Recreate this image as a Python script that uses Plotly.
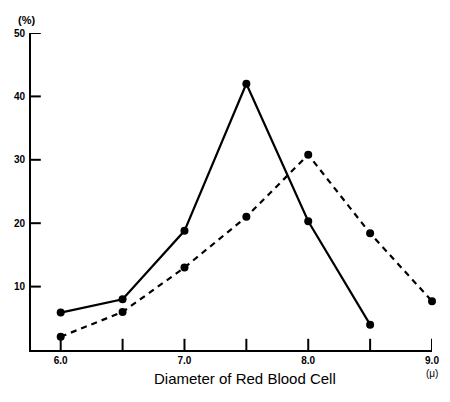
import plotly.graph_objects as go

diameters = [6.0, 6.5, 7.0, 7.5, 8.0, 8.5]
solid_pct = [5.9, 8.0, 18.8, 42.0, 20.3, 4.0]
diameters_dashed = [6.0, 6.5, 7.0, 7.5, 8.0, 8.5, 9.0]
dashed_pct = [2.1, 6.0, 13.0, 21.0, 30.8, 18.4, 7.7]

x_tickvals = [6.0, 6.5, 7.0, 7.5, 8.0, 8.5, 9.0]
x_ticktext = ["<b>6.0</b>", "", "<b>7.0</b>", "", "<b>8.0</b>", "", "<b>9.0</b>"]
y_tickvals = [10, 20, 30, 40, 50]
y_ticktext = ["<b>10</b>", "<b>20</b>", "<b>30</b>", "<b>40</b>", "<b>50</b>"]

x_range = [5.76, 9.0]
y_range = [0, 50]

fig = go.Figure()
# tick marks drawn as clipped line markers so only the inner half shows
fig.add_trace(go.Scatter(x=x_tickvals, y=[y_range[0]] * len(x_tickvals), mode="markers",
                         marker=dict(symbol="line-ns", size=16, line=dict(color="black", width=2)),
                         showlegend=False, hoverinfo="skip"))
fig.add_trace(go.Scatter(x=[x_range[0]] * len(y_tickvals), y=y_tickvals, mode="markers",
                         marker=dict(symbol="line-ew", size=14, line=dict(color="black", width=2)),
                         showlegend=False, hoverinfo="skip"))
fig.add_trace(go.Scatter(x=diameters, y=solid_pct, mode="lines+markers",
                         line=dict(color="black", width=2.2),
                         marker=dict(color="black", size=8), showlegend=False,
                         cliponaxis=False))
fig.add_trace(go.Scatter(x=diameters_dashed, y=dashed_pct, mode="lines+markers",
                         line=dict(color="black", width=2.2, dash="6px,5px"),
                         marker=dict(color="black", size=8), showlegend=False,
                         cliponaxis=False))

font_ax = dict(family="Liberation Sans Narrow, Arial Narrow, sans-serif", size=10, color="black")

fig.update_layout(
    template="none",
    width=450, height=402,
    margin=dict(l=31, r=18, t=33, b=52),
    paper_bgcolor="white", plot_bgcolor="white",
    xaxis=dict(range=x_range, tickmode="array", tickvals=x_tickvals, ticktext=x_ticktext,
               ticks="", showline=True, linecolor="black", linewidth=2, showgrid=False,
               zeroline=False, tickfont=font_ax),
    yaxis=dict(range=y_range, tickmode="array", tickvals=y_tickvals, ticktext=y_ticktext,
               ticks="", showline=True, linecolor="black", linewidth=2, showgrid=False,
               zeroline=False, tickfont=font_ax, ticklabelstandoff=2),
    annotations=[
        dict(text="<b>(%)</b>", x=16, y=12, showarrow=False,
             font=dict(family="Liberation Sans Narrow, sans-serif", size=11, color="black")),
        dict(text="(μ)", x=440, y=381, showarrow=False,
             font=dict(family="Liberation Sans Narrow, sans-serif", size=10, color="black")),
        dict(text="Diameter of Red Blood Cell", x=245, y=389, showarrow=False,
             font=dict(family="Liberation Sans Narrow, sans-serif", size=15, color="black")),
    ],
)
W, H = 450, 402
l, r, t, b = 31, 18, 33, 52
pw, ph = W - l - r, H - t - b
for a in fig.layout.annotations:
    px, py = a.x, a.y
    a.x = (px - l) / pw
    a.y = 1 - (py - t) / ph
    a.xref = "paper"
    a.yref = "paper"

fig.write_html("out.html")
